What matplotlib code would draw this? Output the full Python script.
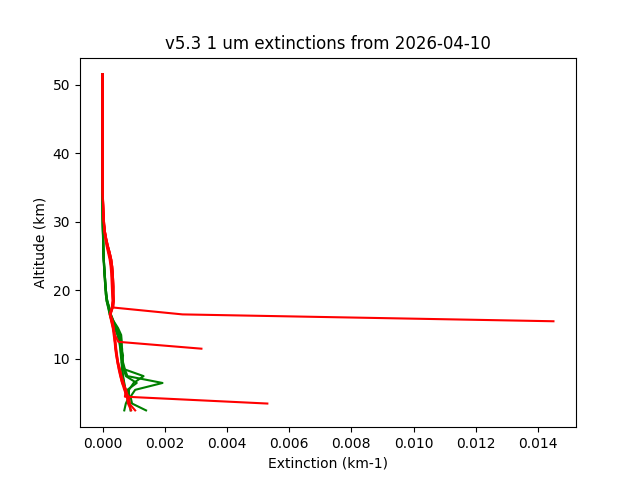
import numpy as np
import matplotlib
matplotlib.use('Agg')
import matplotlib.pyplot as plt

# altitude grid (km), 2.5 .. 51.5
alt = [2.5, 3.5, 4.5, 5.5, 6.5, 7.5, 8.5, 9.5, 10.5, 11.5,
       12.5, 13.5, 14.5, 15.5, 16.5, 17.5, 18.5, 19.5, 20.5, 21.5,
       22.5, 23.5, 24.5, 25.5, 26.5, 27.5, 28.5, 29.5, 30.5, 31.5,
       32.5, 33.5, 34.5, 35.5, 36.5, 37.5, 38.5, 39.5, 40.5, 41.5,
       42.5, 43.5, 44.5, 45.5, 46.5, 47.5, 48.5, 49.5, 50.5, 51.5]

# extinctions in units of 1e-4 km-1, upper part 18.5 .. 51.5 km
red_top_a = [3.4, 3.3, 3.2, 3.1, 3.0, 2.8, 2.5, 2.0, 1.5, 1.1,
             0.7, 0.5, 0.35, 0.25, 0.18, 0.12, 0.08, 0.06, 0.05, 0.04,
             0.03, 0.03, 0.02, 0.02, 0.02, 0.02, 0.01, 0.01, 0.01, 0.01,
             0.01, 0.01, 0.01, 0.01]
red_top_b = [3.6, 3.5, 3.5, 3.4, 3.3, 3.1, 2.8, 2.3, 1.7, 1.2,
             0.8, 0.55, 0.4, 0.28, 0.2, 0.13, 0.09, 0.07, 0.05, 0.04,
             0.03, 0.03, 0.02, 0.02, 0.02, 0.02, 0.01, 0.01, 0.01, 0.01,
             0.01, 0.01, 0.01, 0.01]
red_top_c = [3.2, 3.1, 3.0, 2.9, 2.8, 2.6, 2.3, 1.8, 1.3, 0.9,
             0.6, 0.45, 0.3, 0.22, 0.16, 0.11, 0.07, 0.05, 0.04, 0.03,
             0.03, 0.02, 0.02, 0.02, 0.02, 0.01, 0.01, 0.01, 0.01, 0.01,
             0.01, 0.01, 0.01, 0.01]
green_top_a = [1.5, 1.2, 1.0, 0.85, 0.7, 0.55, 0.42, 0.32, 0.25, 0.2,
               0.15, 0.1, 0.07, 0.05, 0.04, 0.03, 0.02, 0.01, 0.01, 0.01,
               0.01, 0.01, 0.01, 0.01, 0.01, 0.01, 0.01, 0.01, 0.01, 0.01,
               0.01, 0.01, 0.01, 0.01]
green_top_b = [1.3, 1.05, 0.9, 0.75, 0.6, 0.48, 0.36, 0.28, 0.22, 0.17,
               0.13, 0.09, 0.06, 0.04, 0.03, 0.02, 0.02, 0.01, 0.01, 0.01,
               0.01, 0.01, 0.01, 0.01, 0.01, 0.01, 0.01, 0.01, 0.01, 0.01,
               0.01, 0.01, 0.01, 0.01]

# lower parts, ending at 17.5 km
green_low = [
    [14.0, 9.5, 9.0, 10.5, 19.3, 8.0, 7.2, 6.6, 6.3, 6.2, 6.0, 5.6, 4.6, 3.4, 2.5, 2.0],
    [7.0, 7.5, 8.5, 8.5, 10.0, 13.2, 7.0, 6.4, 6.0, 5.8, 5.5, 5.0, 4.2, 3.2, 2.4, 1.9],
    [8.0, 8.0, 11.0, 7.5, 6.8, 6.2, 6.6, 6.0, 6.2, 6.0, 5.0, 3.6, 2.6, 2.1],
    [7.8, 7.2, 6.9, 6.5, 6.3, 6.1, 5.9, 5.7, 5.4, 4.8, 3.9, 3.0, 2.3, 1.8],
    [9.0, 8.8, 8.2, 7.4, 7.0, 6.6, 6.4, 6.5, 6.4, 6.3, 5.9, 5.2, 4.4, 3.5, 2.7, 2.2],
]
green_tops = [green_top_a, green_top_b, green_top_a, green_top_b, green_top_a]

red_low = [
    [145.0, 25.7, 3.5],
    [31.8, 5.1, 4.0, 3.6, 3.2, 2.5, 3.2],
    [53.0, 7.2, 7.5, 6.3, 5.8, 5.3, 4.8, 4.5, 4.2, 4.0, 3.8, 3.6, 3.2, 2.6, 3.3],
    [10.5, 8.6, 8.0, 7.6, 6.6, 6.0, 5.5, 5.0, 4.6, 4.3, 4.0, 3.8, 3.5, 3.0, 2.5, 3.1],
    [9.2, 8.2, 7.8, 7.0, 6.3, 5.7, 5.2, 4.8, 4.4, 4.1, 3.9, 3.6, 3.3, 2.8, 2.3, 3.0],
    [8.8, 8.4, 7.2, 6.8, 6.1, 5.6, 5.0, 4.7, 4.4, 4.2, 3.9, 3.4, 2.9, 2.4, 3.2],
]
red_tops = [red_top_b, red_top_a, red_top_b, red_top_a, red_top_c, red_top_b]

fig, ax = plt.subplots()

for low, top in zip(green_low, green_tops):
    ext = np.array(low + top) * 1e-4
    ax.plot(ext, alt[-len(ext):], color='green')

for low, top in zip(red_low, red_tops):
    ext = np.array(low + top) * 1e-4
    ax.plot(ext, alt[-len(ext):], color='red')

ax.set_xlabel('Extinction (km-1)')
ax.set_ylabel('Altitude (km)')
ax.set_title('v5.3 1 um extinctions from 2026-04-10')

fig.savefig('out.png')
